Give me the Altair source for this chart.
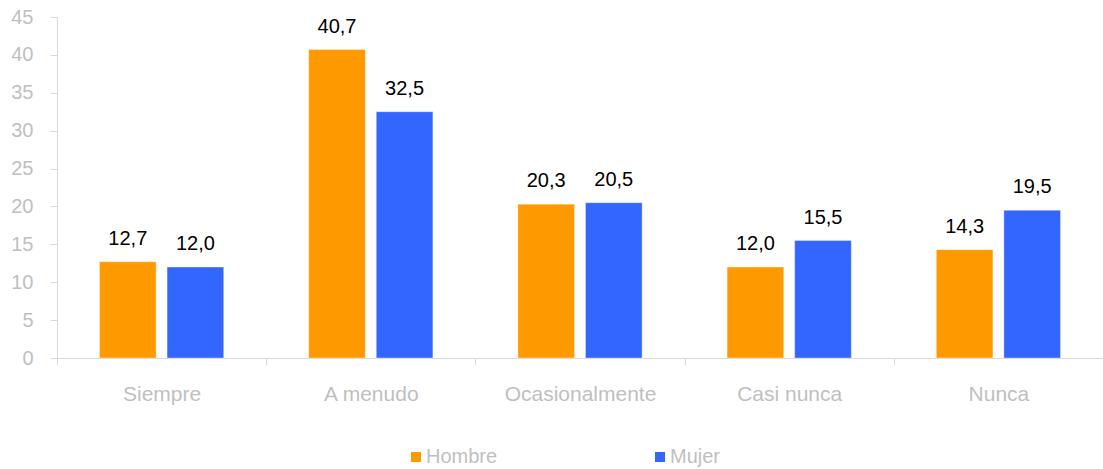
import altair as alt
import pandas as pd

categorias = ["Siempre", "A menudo", "Ocasionalmente", "Casi nunca", "Nunca"]
hombre = [12.7, 40.7, 20.3, 12.0, 14.3]
mujer = [12.0, 32.5, 20.5, 15.5, 19.5]
series = ["Hombre", "Mujer"]
colores = ["#FF9900", "#3366FF"]
y_max = 45
y_paso = 5

rows = []
for i, c in enumerate(categorias):
    rows.append({"cat": c, "sexo": "Hombre", "valor": hombre[i],
                 "etiqueta": f"{hombre[i]:.1f}".replace(".", ",")})
    rows.append({"cat": c, "sexo": "Mujer", "valor": mujer[i],
                 "etiqueta": f"{mujer[i]:.1f}".replace(".", ",")})
df = pd.DataFrame(rows)

FONT = "Liberation Sans"
GRAY = "#BFBFBF"
LINE = "#D9D9D9"

x_enc = alt.X("cat:N", sort=categorias, title=None,
              scale=alt.Scale(paddingInner=0, paddingOuter=0),
              axis=alt.Axis(labelAngle=0, tickBand="extent", tickSize=7,
                            tickColor=LINE, domainColor=LINE, labelColor=GRAY,
                            labelFont=FONT, labelFontSize=21, labelPadding=18,
                            grid=False))
xoff = alt.XOffset("sexo:N", sort=series,
                   scale=alt.Scale(paddingInner=0.162, paddingOuter=0.629))
y_enc = alt.Y("valor:Q", title=None, stack=None,
              scale=alt.Scale(domain=[0, y_max], nice=False),
              axis=alt.Axis(tickCount=y_max // y_paso, grid=False, labelOverlap=False,
                            tickSize=7, tickColor=LINE, domainColor=LINE,
                            labelColor=GRAY, labelFont=FONT, labelFontSize=20,
                            labelPadding=17))

base = alt.Chart(df).encode(x=x_enc, xOffset=xoff, y=y_enc)

bars = base.mark_bar(stroke="#FFFFFF", strokeOpacity=0.35, strokeWidth=1).encode(
    color=alt.Color("sexo:N", sort=series,
                    scale=alt.Scale(domain=series, range=colores),
                    legend=alt.Legend(title=None, orient="none", direction="horizontal",
                                      columns=2, columnPadding=152,
                                      legendX=349, legendY=430,
                                      symbolType="square", symbolSize=100,
                                      symbolStrokeWidth=0, labelOffset=0,
                                      labelColor=GRAY, labelFont=FONT,
                                      labelFontSize=20)),
)

labels = base.mark_text(baseline="alphabetic", dy=-17, font=FONT, fontSize=20,
                        color="#000000").encode(
    text="etiqueta:N",
)

chart = (bars + labels).properties(
    width=1046, height=341,
    autosize=alt.AutoSizeParams(type="none"),
    padding={"left": 57, "top": 17, "right": 0, "bottom": 111},
    background="#FFFFFF",
).configure_view(stroke=None)

chart.save("out.html", embed_options={"renderer": "svg", "actions": False})
